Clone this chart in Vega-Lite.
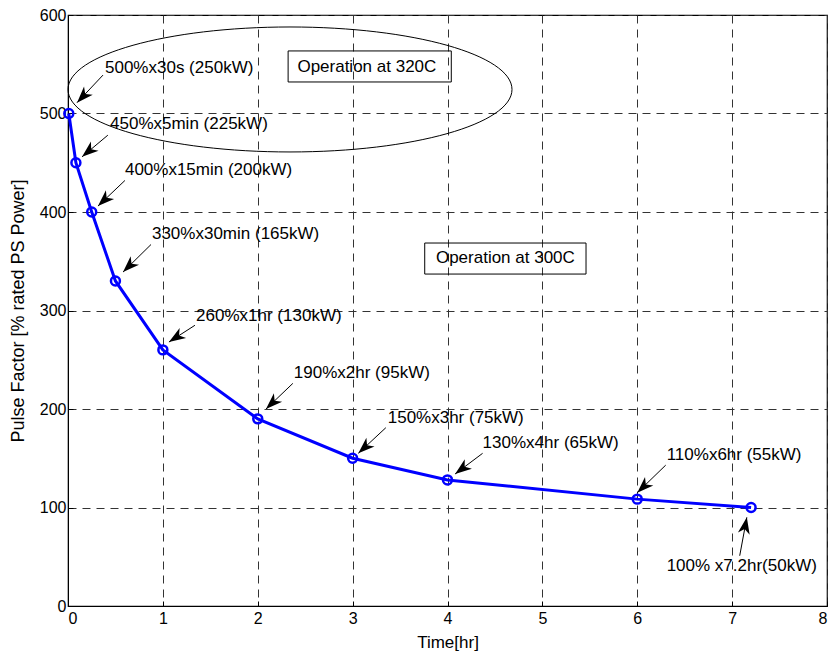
{
  "$schema": "https://vega.github.io/schema/vega-lite/v6.json",
  "width": 759,
  "height": 591,
  "autosize": {"type": "none"},
  "padding": {"left": 68, "top": 15, "right": 6, "bottom": 46},
  "background": "white",
  "config": {
    "view": {"stroke": "black", "strokeWidth": 1.2},
    "font": "Liberation Sans",
    "axis": {
      "labelFont": "Liberation Sans",
      "labelFontSize": 16,
      "labelColor": "black",
      "titleFont": "Liberation Sans",
      "titleFontWeight": "normal",
      "titleColor": "black",
      "titleFontSize": 17,
      "grid": true,
      "gridColor": "#333333",
      "gridDash": [8, 6],
      "gridWidth": 1,
      "gridOpacity": 1,
      "domainColor": "black",
      "tickColor": "black",
      "tickSize": -5
    }
  },
  "datasets": {
    "curve": [
      {"x": 0.00833, "y": 500},
      {"x": 0.0833, "y": 450},
      {"x": 0.25, "y": 400},
      {"x": 0.5, "y": 330},
      {"x": 1, "y": 260},
      {"x": 2, "y": 190},
      {"x": 3, "y": 150},
      {"x": 4, "y": 128},
      {"x": 6, "y": 108.5},
      {"x": 7.2, "y": 100}
    ],
    "arrows": [
      {"x": 0.369, "y": 539, "x2": 0.095, "y2": 511},
      {"x": 0.42, "y": 478, "x2": 0.148, "y2": 456},
      {"x": 0.6, "y": 432, "x2": 0.316, "y2": 406},
      {"x": 0.875, "y": 367, "x2": 0.58, "y2": 339},
      {"x": 1.338, "y": 285, "x2": 1.064, "y2": 268},
      {"x": 2.37, "y": 226, "x2": 2.087, "y2": 200},
      {"x": 3.35, "y": 181, "x2": 3.06, "y2": 155},
      {"x": 4.37, "y": 155, "x2": 4.08, "y2": 134},
      {"x": 6.3, "y": 143, "x2": 6.0, "y2": 115},
      {"x": 7.08, "y": 51, "x2": 7.155, "y2": 90}
    ],
    "labels": [
      {"x": 0.39, "y": 546, "label": "500%x30s (250kW)"},
      {"x": 0.443, "y": 489, "label": "450%x5min (225kW)"},
      {"x": 0.6, "y": 443, "label": "400%x15min (200kW)"},
      {"x": 0.885, "y": 378, "label": "330%x30min (165kW)"},
      {"x": 1.35, "y": 294, "label": "260%x1hr (130kW)"},
      {"x": 2.38, "y": 237, "label": "190%x2hr (95kW)"},
      {"x": 3.37, "y": 191, "label": "150%x3hr (75kW)"},
      {"x": 4.37, "y": 165, "label": "130%x4hr (65kW)"},
      {"x": 6.31, "y": 153, "label": "110%x6hr (55kW)"},
      {"x": 6.31, "y": 40.6, "label": "100% x7.2hr(50kW)"}
    ],
    "ellipse": [{"x": 2.34, "y": 524.4}],
    "boxes": [
      {"x": 2.32, "x2": 4.04, "y": 563.5, "y2": 532, "cx": 3.15, "cy": 547.7, "label": "Operation at 320C"},
      {"x": 3.76, "x2": 5.46, "y": 368.5, "y2": 337, "cx": 4.61, "cy": 352.8, "label": "Operation at 300C"}
    ]
  },
  "layer": [
    {
      "data": {"name": "curve"},
      "mark": {"type": "line", "color": "#0000ff", "strokeWidth": 3},
      "encoding": {
        "x": {"field": "x", "type": "quantitative", "title": "Time[hr]", "scale": {"domain": [0, 8], "nice": false, "zero": false},
              "axis": {"title": "Time[hr]", "values": [0,1,2,3,4,5,6,7,8], "format": "d", "labelPadding": 9, "titlePadding": 8}},
        "y": {"field": "y", "type": "quantitative", "title": "Pulse Factor [% rated PS Power]", "scale": {"domain": [0, 600], "nice": false},
              "axis": {"title": "Pulse Factor [% rated PS Power]", "values": [0,100,200,300,400,500,600], "format": "d", "labelPadding": 7, "titlePadding": 12, "titleFontSize": 18}}
      }
    },
    {
      "data": {"name": "curve"},
      "mark": {"type": "point", "shape": "circle", "filled": false, "color": "#0000ff", "strokeWidth": 2.5, "size": 80, "opacity": 1},
      "encoding": {
        "x": {"field": "x", "type": "quantitative", "title": "Time[hr]"},
        "y": {"field": "y", "type": "quantitative", "title": "Pulse Factor [% rated PS Power]"}
      }
    },
    {
      "data": {"name": "arrows"},
      "mark": {"type": "rule", "color": "black", "strokeWidth": 1},
      "encoding": {
        "x": {"field": "x", "type": "quantitative", "title": "Time[hr]"},
        "y": {"field": "y", "type": "quantitative", "title": "Pulse Factor [% rated PS Power]"},
        "x2": {"field": "x2"},
        "y2": {"field": "y2"}
      }
    },
    {
      "data": {"name": "arrows"},
      "transform": [
        {"calculate": "atan2((datum.x2 - datum.x) * 94.875, (datum.y2 - datum.y) * 0.985) * 180 / PI", "as": "ang"}
      ],
      "mark": {"type": "point", "shape": "M 0 0 L -0.36 1 L 0 0.72 L 0.36 1 Z", "filled": true, "color": "black", "size": 1100, "opacity": 1, "strokeWidth": 0},
      "encoding": {
        "x": {"field": "x2", "type": "quantitative", "title": "Time[hr]"},
        "y": {"field": "y2", "type": "quantitative", "title": "Pulse Factor [% rated PS Power]"},
        "angle": {"field": "ang", "type": "quantitative", "scale": null}
      }
    },
    {
      "data": {"name": "labels"},
      "mark": {"type": "text", "align": "left", "baseline": "middle", "font": "Liberation Sans", "fontSize": 17, "color": "black"},
      "encoding": {
        "x": {"field": "x", "type": "quantitative", "title": "Time[hr]"},
        "y": {"field": "y", "type": "quantitative", "title": "Pulse Factor [% rated PS Power]"},
        "text": {"field": "label"}
      }
    },
    {
      "data": {"name": "ellipse"},
      "mark": {"type": "point", "shape": "M -1 0 C -1 -0.1555 -0.5523 -0.2815 0 -0.2815 C 0.5523 -0.2815 1 -0.1555 1 0 C 1 0.1555 0.5523 0.2815 0 0.2815 C -0.5523 0.2815 -1 0.1555 -1 0 Z", "filled": false, "color": "black", "strokeWidth": 1, "size": 197136, "opacity": 1},
      "encoding": {
        "x": {"field": "x", "type": "quantitative", "title": "Time[hr]"},
        "y": {"field": "y", "type": "quantitative", "title": "Pulse Factor [% rated PS Power]"}
      }
    },
    {
      "data": {"name": "boxes"},
      "mark": {"type": "rect", "fill": null, "fillOpacity": 0, "stroke": "black", "strokeWidth": 1},
      "encoding": {
        "x": {"field": "x", "type": "quantitative", "title": "Time[hr]"},
        "x2": {"field": "x2"},
        "y": {"field": "y", "type": "quantitative", "title": "Pulse Factor [% rated PS Power]"},
        "y2": {"field": "y2"}
      }
    },
    {
      "data": {"name": "boxes"},
      "mark": {"type": "text", "align": "center", "baseline": "middle", "font": "Liberation Sans", "fontSize": 17, "color": "black"},
      "encoding": {
        "x": {"field": "cx", "type": "quantitative", "title": "Time[hr]"},
        "y": {"field": "cy", "type": "quantitative", "title": "Pulse Factor [% rated PS Power]"},
        "text": {"field": "label"}
      }
    }
  ]
}
